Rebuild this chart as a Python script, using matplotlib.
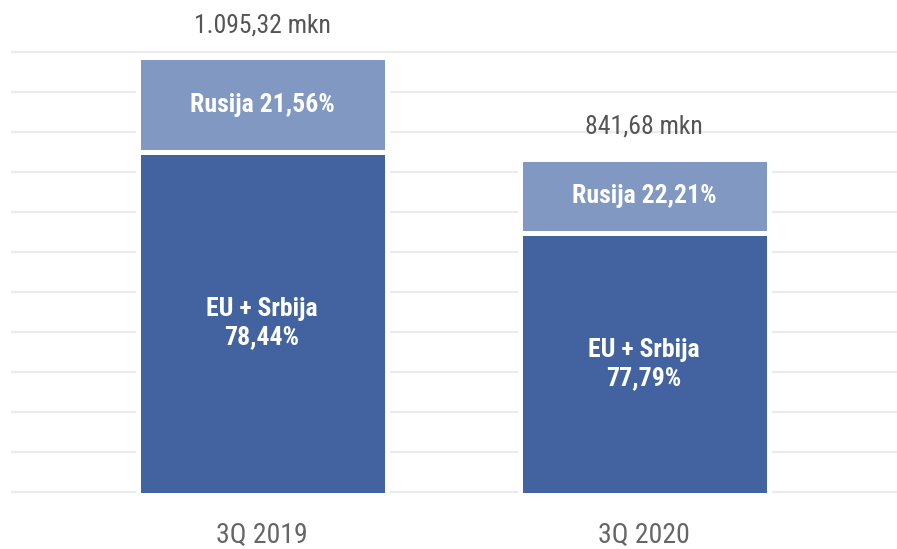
import numpy as np
import matplotlib.pyplot as plt

plt.rcParams['font.family'] = ['Roboto Condensed', 'Liberation Sans Narrow', 'Roboto', 'DejaVu Sans']

# data
categories = ['3Q 2019', '3Q 2020']
totals = [1095.32, 841.68]
eu_share = [78.44, 77.79]
ru_share = [21.56, 22.21]
total_labels = ['1.095,32 mkn', '841,68 mkn']

totals = np.array(totals)
eu_vals = totals * np.array(eu_share) / 100
ru_vals = totals * np.array(ru_share) / 100

dark = '#4263a0'
light = '#8098c2'

W, H = 897, 549
fig = plt.figure(figsize=(W / 100, H / 100), dpi=100)

# pixel layout: zero line at y=494.5 px, 0.399 px per unit
zero_px, scale = 494.5, 0.399
ax_top_px, ax_bot_px = 20, 510
ax = fig.add_axes([11 / W, 1 - ax_bot_px / H, 1 - 11 / W, (ax_bot_px - ax_top_px) / H])
ax.set_ylim((zero_px - ax_bot_px) / scale, (zero_px - ax_top_px) / scale)

unit = 382
ax.set_xlim(-(262 - 11) / unit, (897 - 262) / unit)

x = np.arange(len(categories))
bw = 249 / unit
ax.bar(x, eu_vals, width=bw, color=dark, edgecolor='white', linewidth=3.6, zorder=3)
ax.bar(x, ru_vals, bottom=eu_vals, width=bw, color=light, edgecolor='white', linewidth=3.6, zorder=3)

# light gridlines, 40 px apart from 52 px to 492 px
grid_vals = [(zero_px - p) / scale for p in range(52, 493, 40)]
for g in grid_vals:
    ax.axhline(g, color='#ececec', linewidth=1.7, zorder=1)

for i in range(len(categories)):
    ax.text(x[i], eu_vals[i] / 2, 'EU + Srbija\n' + f'{eu_share[i]:.2f}%'.replace('.', ','),
            ha='center', va='center', color='white', fontsize=18.5, fontweight='bold',
            linespacing=1.25, zorder=4)
    ax.text(x[i], eu_vals[i] + ru_vals[i] / 2, 'Rusija ' + f'{ru_share[i]:.2f}%'.replace('.', ','),
            ha='center', va='center', color='white', fontsize=18.5, fontweight='bold', zorder=4)
    ax.text(x[i], totals[i] + 80, total_labels[i], ha='center', va='center',
            color='#555555', fontsize=18.5)
    ax.text(x[i], -103, categories[i], ha='center', va='center', color='#666666', fontsize=20)

ax.axis('off')
fig.savefig('out.png', dpi=100)
